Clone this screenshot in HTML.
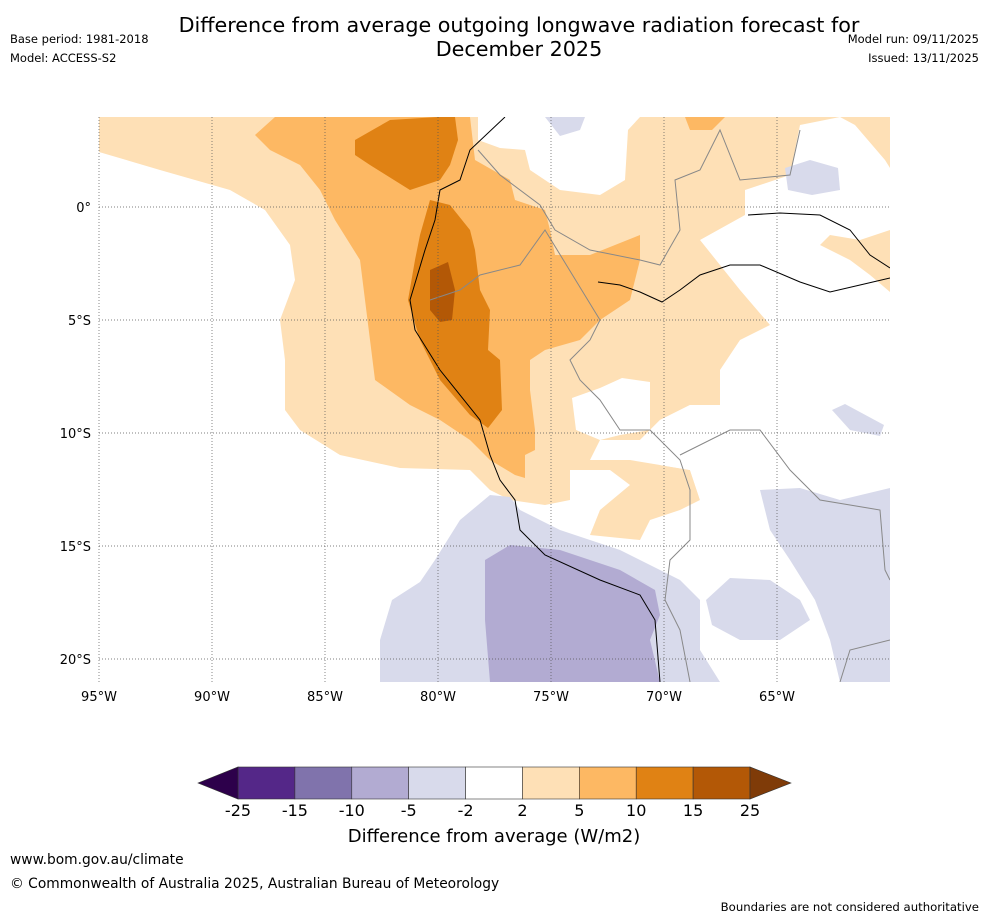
<!DOCTYPE html>
<html><head><meta charset="utf-8">
<style>
body{margin:0;background:#fff;font-family:"DejaVu Sans",sans-serif;}
#wrap{position:relative;width:988px;height:919px;overflow:hidden;background:#fff;}
.t{position:absolute;white-space:nowrap;color:#000;}
</style></head>
<body>
<div id="wrap">
<div class="t" style="left:0;width:1038px;top:13px;text-align:center;font-size:20.7px;line-height:24px;">Difference from average outgoing longwave radiation forecast for<br>December 2025</div>
<div class="t" style="left:10px;top:32px;font-size:11.5px;">Base period: 1981-2018</div>
<div class="t" style="left:10px;top:51px;font-size:11.5px;">Model: ACCESS-S2</div>
<div class="t" style="right:9px;top:32px;font-size:11.5px;">Model run: 09/11/2025</div>
<div class="t" style="right:9px;top:51px;font-size:11.5px;">Issued: 13/11/2025</div>

<svg id="map" width="988" height="919" style="position:absolute;left:0;top:0">
<defs><clipPath id="mc"><rect x="99" y="117" width="791" height="565"/></clipPath></defs>
<g clip-path="url(#mc)">
<polygon fill="#fee0b6" points="99,117 890,117 890,300 770,325 720,370 720,405 690,405 660,420 640,440 600,440 590,460 630,460 660,465 690,470 700,500 680,510 650,520 640,540 590,535 600,510 630,485 610,470 570,470 570,500 545,505 510,500 490,490 470,470 400,468 340,455 300,430 285,410 285,360 280,320 295,280 290,245 265,210 230,190 160,170 99,152"/>
<polygon fill="#fff" points="478,117 640,117 628,130 625,180 600,195 560,190 530,170 525,150 500,148 478,140"/>
<polygon fill="#fff" points="745,190 790,175 800,125 840,117 855,125 885,160 890,168 890,230 860,240 830,235 820,245 850,260 870,275 890,292 890,682 720,682 690,560 700,500 690,470 660,465 640,440 660,420 690,405 720,405 720,370 740,340 770,325 740,290 720,265 700,240 745,215"/>
<polygon fill="#fff" points="572,398 600,388 622,378 650,382 650,430 620,435 600,440 576,430"/>
<polygon fill="#fdb863" points="255,135 275,117 470,117 475,160 510,180 515,200 545,210 550,230 555,255 590,255 615,245 640,235 640,260 630,300 600,320 580,340 545,350 530,360 530,390 535,430 535,450 525,455 525,478 515,475 490,460 470,440 440,420 410,405 375,380 370,340 365,300 360,260 335,220 320,190 300,165 270,150"/>
<polygon fill="#fdb863" points="685,117 725,117 712,130 690,130"/>
<polygon fill="#e08214" points="355,140 390,120 438,117 455,117 458,140 450,165 440,180 410,190 370,165 355,155"/>
<polygon fill="#e08214" points="430,200 450,205 470,230 475,250 480,290 490,310 488,350 500,360 502,410 488,428 470,415 440,380 420,340 408,300 415,260 420,235"/>
<polygon fill="#b35806" points="430,270 448,262 455,290 452,320 440,322 430,310"/>
<polygon fill="#d8daeb" points="380,640 392,600 420,582 435,560 460,520 490,495 510,497 520,510 560,530 620,550 660,570 680,580 700,600 700,650 720,682 380,682"/>
<polygon fill="#d8daeb" points="706,600 730,578 770,580 800,600 810,620 780,640 740,640 712,625"/>
<polygon fill="#d8daeb" points="760,490 800,488 840,500 890,488 890,682 840,682 830,640 815,600 790,560 770,530"/>
<polygon fill="#d8daeb" points="832,410 845,404 884,425 880,436 850,430"/>
<polygon fill="#d8daeb" points="785,168 810,160 838,168 840,190 812,195 788,190"/>
<polygon fill="#d8daeb" points="545,117 585,117 580,130 560,136"/>
<polygon fill="#b2abd2" points="485,560 510,545 560,550 620,570 655,590 660,615 650,640 660,682 705,682 490,682 485,620"/>
<polyline fill="none" stroke="#000" stroke-width="1" points="505,117 470,150 460,180 440,190 435,220 425,250 410,300 415,330 440,370 480,420 490,455 500,480 515,500 520,530 545,555 600,580 640,595 655,620 660,682"/>
<polyline fill="none" stroke="#000" stroke-width="1" points="598,282 620,285 640,292 662,302 680,290 700,275 730,265 760,265 800,282 830,292 860,285 890,278"/>
<polyline fill="none" stroke="#000" stroke-width="1" points="748,215 780,213 820,215 850,230 870,255 890,268"/>
<polyline fill="none" stroke="#888" stroke-width="1" points="478,150 500,175 540,205 555,230 590,250 640,260 660,265 680,230 675,180 700,170 720,130 740,180 790,175 800,130"/>
<polyline fill="none" stroke="#888" stroke-width="1" points="430,300 460,290 480,275 520,265 545,230 600,320 590,340 570,360 580,380 600,400 620,430 650,430 680,460 690,490 690,540 670,560 665,600 680,630 690,682"/>
<polyline fill="none" stroke="#888" stroke-width="1" points="680,455 730,430 760,430 790,470 820,500 880,510 885,570 890,580"/>
<polyline fill="none" stroke="#888" stroke-width="1" points="840,682 850,650 890,640"/>
</g>
<g id="grid"></g>
<g id="bar"></g>
</svg>

<div class="t" style="left:0;width:988px;text-align:center;top:826px;font-size:18px;">Difference from average (W/m2)</div>
<div class="t" style="left:10px;top:852px;font-size:13.8px;">www.bom.gov.au/climate</div>
<div class="t" style="left:10px;top:876px;font-size:13.8px;">© Commonwealth of Australia 2025, Australian Bureau of Meteorology</div>
<div class="t" style="right:9px;top:900px;font-size:11.7px;">Boundaries are not considered authoritative</div>
</div>
<script>
const lonTicks=[95,90,85,80,75,70,65];
const latTicks=[0,5,10,15,20];
const levels=[-25,-15,-10,-5,-2,2,5,10,15,25];
const levelColors=["#542788","#8073ac","#b2abd2","#d8daeb","#ffffff","#fee0b6","#fdb863","#e08214","#b35806"];
const extendColors=["#2d004b","#7f3b08"];
const NS="http://www.w3.org/2000/svg";
const FF="DejaVu Sans, sans-serif";
const xLon=l=>99+(95-l)*22.6;
const yLat=l=>207+l*22.6;
function mk(tag,attrs,parent){const e=document.createElementNS(NS,tag);for(const k in attrs)e.setAttribute(k,attrs[k]);parent.appendChild(e);return e;}
const grid=document.getElementById('grid');
lonTicks.forEach(l=>{const x=xLon(l);
 const ln=mk('line',{x1:x,x2:x,y1:117,y2:682,stroke:'#555','stroke-width':0.7,'stroke-dasharray':'1,2'},grid);
 
 
 const t=mk('text',{x:x,y:701,'text-anchor':'middle','font-size':13,'font-family':FF},grid);
 t.textContent=l+'°W';
 
 
});
latTicks.forEach(l=>{const y=yLat(l);
 const ln=mk('line',{x1:99,x2:890,y1:y,y2:y,stroke:'#555','stroke-width':0.7,'stroke-dasharray':'1,2'},grid);
 
 
 const t=mk('text',{x:91,y:y+5,'text-anchor':'end','font-size':13,'font-family':FF},grid);
 t.textContent=l===0?'0°':l+'°S';
 
 
});
const bar=document.getElementById('bar');
const bx0=238,bx1=750,by=767,bh=32,n=levelColors.length,bw=(bx1-bx0)/n;
levelColors.forEach((c,i)=>{
 const r=mk('rect',{x:bx0+i*bw,y:by,width:bw,height:bh,fill:c,stroke:'#333','stroke-width':0.6},bar);
 
 
});
const lt=mk('polygon',{points:`198,${by+bh/2} ${bx0},${by} ${bx0},${by+bh}`,fill:extendColors[0],stroke:'#333','stroke-width':0.6},bar);


const rt=mk('polygon',{points:`791,${by+bh/2} ${bx1},${by} ${bx1},${by+bh}`,fill:extendColors[1],stroke:'#333','stroke-width':0.6},bar);


levels.forEach((v,i)=>{
 const t=mk('text',{x:bx0+i*bw,y:816,'text-anchor':'middle','font-size':16,'font-family':FF},bar);
 t.textContent=v;
 
 
});
</script>
</body></html>
